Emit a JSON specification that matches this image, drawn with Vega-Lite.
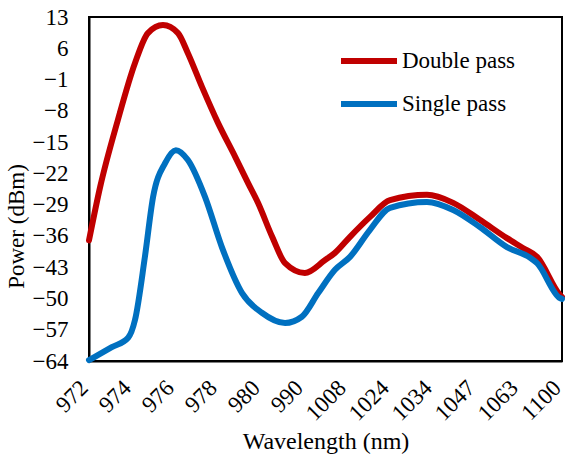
{
  "$schema": "https://vega.github.io/schema/vega-lite/v6.json",
  "width": 473,
  "height": 344,
  "autosize": "none",
  "padding": {"left": 89, "top": 17, "right": 3, "bottom": 94},
  "background": "white",
  "config": {
    "font": "Liberation Serif",
    "view": {"stroke": "black", "strokeWidth": 2}
  },
  "data": {
    "values": [
      {"series": "Double pass", "idx": 0, "power": -37.0},
      {"series": "Double pass", "idx": 0.26, "power": -25.0},
      {"series": "Double pass", "idx": 0.67, "power": -10.1},
      {"series": "Double pass", "idx": 1.07, "power": 2.7},
      {"series": "Double pass", "idx": 1.37, "power": 9.4},
      {"series": "Double pass", "idx": 1.72, "power": 11.2},
      {"series": "Double pass", "idx": 2.07, "power": 9.4},
      {"series": "Double pass", "idx": 2.3, "power": 4.9},
      {"series": "Double pass", "idx": 2.63, "power": -2.7},
      {"series": "Double pass", "idx": 3.0, "power": -10.7},
      {"series": "Double pass", "idx": 3.4, "power": -18.3},
      {"series": "Double pass", "idx": 3.7, "power": -24.2},
      {"series": "Double pass", "idx": 3.93, "power": -28.6},
      {"series": "Double pass", "idx": 4.26, "power": -36.2},
      {"series": "Double pass", "idx": 4.56, "power": -42.1},
      {"series": "Double pass", "idx": 5.02, "power": -44.3},
      {"series": "Double pass", "idx": 5.49, "power": -41.4},
      {"series": "Double pass", "idx": 5.72, "power": -39.8},
      {"series": "Double pass", "idx": 6.07, "power": -36.2},
      {"series": "Double pass", "idx": 6.53, "power": -31.8},
      {"series": "Double pass", "idx": 7.0, "power": -28.0},
      {"series": "Double pass", "idx": 7.86, "power": -26.8},
      {"series": "Double pass", "idx": 8.47, "power": -28.6},
      {"series": "Double pass", "idx": 9.09, "power": -32.4},
      {"series": "Double pass", "idx": 9.72, "power": -36.5},
      {"series": "Double pass", "idx": 10.09, "power": -38.7},
      {"series": "Double pass", "idx": 10.42, "power": -40.7},
      {"series": "Double pass", "idx": 10.95, "power": -49.2},
      {"series": "Double pass", "idx": 11, "power": -49.7},
      {"series": "Single pass", "idx": 0, "power": -63.8},
      {"series": "Single pass", "idx": 0.53, "power": -60.9},
      {"series": "Single pass", "idx": 0.91, "power": -58.8},
      {"series": "Single pass", "idx": 1.07, "power": -54.8},
      {"series": "Single pass", "idx": 1.3, "power": -40.7},
      {"series": "Single pass", "idx": 1.49, "power": -27.3},
      {"series": "Single pass", "idx": 1.77, "power": -19.7},
      {"series": "Single pass", "idx": 2.02, "power": -16.8},
      {"series": "Single pass", "idx": 2.3, "power": -19.0},
      {"series": "Single pass", "idx": 2.7, "power": -27.3},
      {"series": "Single pass", "idx": 3.09, "power": -38.5},
      {"series": "Single pass", "idx": 3.56, "power": -48.8},
      {"series": "Single pass", "idx": 4.02, "power": -53.2},
      {"series": "Single pass", "idx": 4.56, "power": -55.5},
      {"series": "Single pass", "idx": 4.95, "power": -54.1},
      {"series": "Single pass", "idx": 5.33, "power": -48.8},
      {"series": "Single pass", "idx": 5.72, "power": -43.6},
      {"series": "Single pass", "idx": 6.07, "power": -40.7},
      {"series": "Single pass", "idx": 6.53, "power": -34.7},
      {"series": "Single pass", "idx": 7.0, "power": -29.7},
      {"series": "Single pass", "idx": 7.86, "power": -28.4},
      {"series": "Single pass", "idx": 8.47, "power": -30.2},
      {"series": "Single pass", "idx": 9.09, "power": -34.0},
      {"series": "Single pass", "idx": 9.72, "power": -38.5},
      {"series": "Single pass", "idx": 10.26, "power": -40.9},
      {"series": "Single pass", "idx": 10.42, "power": -42.1},
      {"series": "Single pass", "idx": 10.95, "power": -49.9},
      {"series": "Single pass", "idx": 11, "power": -50.1}
    ]
  },
  "mark": {"type": "line", "interpolate": "monotone", "strokeWidth": 6, "strokeCap": "round", "strokeJoin": "round"},
  "encoding": {
    "x": {
      "field": "idx",
      "type": "quantitative",
      "scale": {"domain": [0, 11], "nice": false, "zero": false},
      "axis": {
        "title": "Wavelength (nm)",
        "titleFont": "Liberation Serif",
        "titleFontSize": 24,
        "titleFontWeight": "normal",
        "titleColor": "black",
        "titlePadding": 4,
        "values": [0, 1, 2, 3, 4, 5, 6, 7, 8, 9, 10, 11],
        "labelExpr": "['972','974','976','978','980','990','1008','1024','1034','1047','1063','1100'][datum.value]",
        "labelAngle": -45,
        "labelAlign": "right",
        "labelBaseline": "middle",
        "labelPadding": 23,
        "labelOffset": -5,
        "labelFont": "Liberation Serif",
        "labelFontSize": 23,
        "labelColor": "black",
        "labelFlush": false,
        "labelOverlap": false,
        "grid": false,
        "ticks": false,
        "domainColor": "black",
        "domainWidth": 2
      }
    },
    "y": {
      "field": "power",
      "type": "quantitative",
      "scale": {"domain": [-64, 13], "nice": false, "zero": false},
      "axis": {
        "title": "Power (dBm)",
        "titleFont": "Liberation Serif",
        "titleFontSize": 23,
        "titleFontWeight": "normal",
        "titleColor": "black",
        "titlePadding": 4,
        "titleY": 209,
        "values": [-64, -57, -50, -43, -36, -29, -22, -15, -8, -1, 6, 13],
        "labelFont": "Liberation Serif",
        "labelFontSize": 23,
        "labelColor": "black",
        "labelPadding": 21,
        "labelFlush": false,
        "labelOverlap": false,
        "grid": false,
        "ticks": false,
        "domainColor": "black",
        "domainWidth": 2
      }
    },
    "color": {
      "field": "series",
      "type": "nominal",
      "scale": {"domain": ["Double pass", "Single pass"], "range": ["#C00000", "#0070C0"]},
      "legend": {
        "title": null,
        "orient": "none",
        "legendX": 249,
        "legendY": 13,
        "symbolType": "stroke",
        "symbolSize": 3136,
        "symbolStrokeWidth": 6,
        "labelFont": "Liberation Serif",
        "labelFontSize": 23,
        "labelColor": "black",
        "labelOffset": 2,
        "rowPadding": -13,
        "padding": 0
      }
    }
  }
}
